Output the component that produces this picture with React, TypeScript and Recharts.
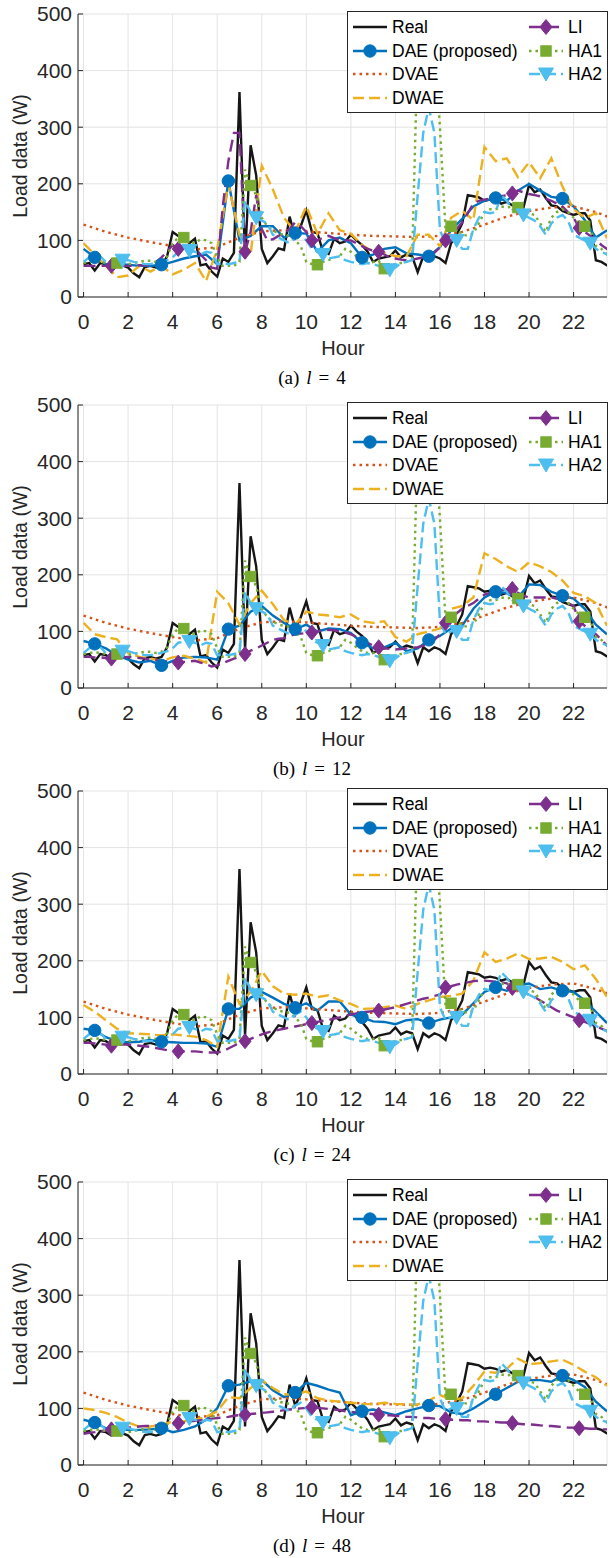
import { ComposedChart, Line, XAxis, YAxis, CartesianGrid } from 'recharts';

const hourTicks = [0, 2, 4, 6, 8, 10, 12, 14, 16, 18, 20, 22];
const loadTicks = [0, 100, 200, 300, 400, 500];

// measured load, 15 min steps, identical in every panel
const realLoad = [
  58, 60, 47, 60, 58, 52, 55, 56, 52, 42, 35, 53,
  55, 52, 55, 72, 115, 108, 105, 95, 103, 56, 58, 45,
  36, 68, 62, 78, 362, 68, 268, 215, 85, 60, 72, 86,
  83, 142, 105, 125, 153, 115, 113, 80, 76, 103, 95, 98,
  110, 100, 92, 80, 62, 68, 70, 72, 82, 70, 75, 72,
  44, 72, 65, 72, 68, 60, 95, 110, 130, 180, 178, 176,
  170, 172, 170, 165, 168, 162, 160, 158, 198, 185, 190, 175,
  162, 160, 152, 148, 145, 148, 148, 135, 65, 62, 56, 52,
];

// historical-average baselines, 15 min steps
const ha1Load = [
  60, 62, 63, 62, 60, 60, 60, 58, 58, 60, 62, 64,
  64, 62, 64, 72, 95, 105, 105, 98, 95, 102, 100, 95,
  70, 55, 55, 55, 62, 225, 197, 180, 140, 125, 118, 112,
  110, 108, 100, 90, 62, 58, 57, 62, 65, 70, 72, 85,
  80, 72, 65, 62, 62, 64, 50, 55, 58, 60, 62, 68,
  440, 455, 455, 445, 300, 120, 125, 120, 110, 108, 112, 130,
  150, 155, 155, 160, 158, 160, 158, 150, 148, 145, 130, 115,
  140, 150, 155, 150, 140, 130, 125, 120, 90, 85, 75, 70,
];
const ha2Load = [
  62, 70, 75, 72, 62, 62, 64, 65, 65, 62, 60, 58,
  58, 60, 62, 65, 70, 80, 82, 82, 80, 75, 80, 78,
  58, 60, 58, 60, 62, 170, 150, 140, 135, 130, 110, 105,
  100, 95, 105, 110, 100, 85, 80, 75, 68, 70, 72, 65,
  62, 60, 58, 60, 58, 55, 50, 48, 52, 60, 62, 65,
  180, 290, 335, 290, 118, 95, 100, 100, 85, 85, 120, 140,
  150, 148, 150, 180, 170, 155, 150, 145, 140, 135, 125, 110,
  130, 140, 145, 135, 110, 105, 100, 95, 85, 80, 75, 70,
];

// DVAE, hourly
const dvaeLoad = [128, 115, 105, 97, 90, 84, 88, 105, 116, 118, 116, 113, 110, 108, 107, 106, 108, 115, 128, 142, 152, 158, 160, 150, 135];

// DAE (proposed), half-hour steps
const daeA = [
  85, 70, 58, 58, 57, 55, 55, 57, 62, 68, 72, 75,
  58, 205, 100, 108, 125, 125, 105, 113, 112, 80, 100, 105,
  95, 70, 75, 85, 88, 77, 75, 72, 88, 118, 138, 160,
  170, 175, 170, 188, 200, 188, 177, 174, 160, 136, 105, 118,
];
const daeB = [
  83, 78, 70, 58, 50, 45, 48, 40, 48, 54, 55, 54,
  50, 104, 110, 135, 145, 128, 115, 104, 112, 100, 105, 104,
  97, 80, 70, 72, 80, 65, 70, 85, 92, 105, 110, 140,
  160, 170, 168, 160, 183, 182, 170, 163, 158, 140, 112, 95,
];
const daeC = [
  80, 77, 65, 58, 56, 57, 60, 57, 56, 55, 55, 54,
  48, 115, 115, 135, 145, 135, 124, 117, 125, 112, 128, 128,
  105, 100, 93, 92, 88, 95, 97, 90, 96, 100, 105, 125,
  145, 153, 147, 157, 160, 150, 153, 147, 145, 130, 110, 90,
];
const daeD = [
  80, 75, 65, 62, 62, 62, 63, 65, 58, 62, 68, 80,
  100, 140, 142, 148, 150, 132, 120, 128, 145, 140, 133, 128,
  88, 95, 98, 93, 88, 95, 100, 105, 104, 93, 90, 100,
  112, 125, 136, 147, 150, 150, 147, 158, 150, 138, 112, 95,
];

// DWAE, half-hour steps
const dwaeA = [
  95, 75, 55, 35, 38, 55, 45, 55, 40, 48, 60, 28,
  85, 200, 110, 76, 232, 190, 140, 115, 160, 112, 148, 118,
  112, 92, 80, 78, 72, 72, 110, 110, 90, 140, 152, 136,
  265, 240, 245, 212, 238, 210, 245, 195, 155, 140, 148, 104,
];
const dwaeB = [
  115, 95, 90, 86, 62, 55, 52, 48, 54, 57, 52, 45,
  170, 150, 112, 150, 172, 148, 120, 112, 135, 130, 128, 125,
  130, 118, 115, 118, 90, 82, 95, 100, 105, 140, 145, 160,
  238, 228, 215, 205, 222, 215, 205, 190, 168, 162, 150, 110,
];
const dwaeC = [
  122, 110, 95, 80, 72, 71, 70, 68, 70, 68, 66, 60,
  48, 172, 124, 145, 182, 155, 142, 140, 142, 136, 139, 130,
  124, 115, 116, 118, 121, 115, 124, 130, 136, 138, 142, 165,
  215, 198, 204, 213, 203, 204, 207, 198, 185, 192, 168, 136,
];
const dwaeD = [
  100, 97, 92, 85, 75, 68, 68, 71, 77, 77, 80, 85,
  95, 120, 118, 136, 150, 136, 125, 124, 130, 118, 114, 112,
  110, 108, 107, 110, 108, 107, 107, 114, 124, 115, 118, 140,
  165, 163, 170, 188, 178, 180, 183, 186, 177, 165, 155, 140,
];

// LI, 15 min steps
const liA = [
  55, 55, 55, 55, 55, 55, 55, 55, 55, 55, 56, 56,
  57, 62, 70, 80, 92, 85, 88, 88, 86, 75, 65, 52,
  50, 160, 240, 290, 290, 80, 115, 180, 120, 100, 102, 108,
  112, 120, 132, 125, 115, 100, 100, 105, 108, 104, 100, 100,
  100, 95, 90, 85, 82, 80, 75, 70, 68, 66, 65, 66,
  68, 70, 72, 78, 88, 100, 110, 120, 132, 148, 165, 170,
  172, 174, 175, 178, 180, 183, 188, 185, 182, 180, 178, 174,
  170, 165, 160, 150, 140, 122, 115, 108, 100, 92, 85, 80,
];
const liB = [
  55, 55, 54, 54, 53, 52, 53, 54, 55, 54, 53, 52,
  50, 49, 48, 47, 46, 45, 46, 47, 48, 45, 42, 38,
  40, 44, 48, 52, 55, 60, 66, 70, 75, 80, 85, 87,
  88, 92, 95, 96, 97, 98, 100, 102, 103, 102, 100, 98,
  95, 90, 85, 80, 75, 72, 70, 69, 68, 69, 70, 71,
  72, 75, 78, 85, 95, 115, 125, 132, 140, 145, 150, 158,
  165, 168, 172, 173, 174, 175, 168, 163, 160, 160, 160, 160,
  160, 158, 155, 150, 145, 118, 110, 102, 95, 85, 75, 65,
];
const liC = [
  55, 55, 54, 53, 52, 50, 51, 52, 52, 51, 50, 49,
  48, 46, 44, 42, 41, 40, 40, 40, 40, 39, 38, 38,
  38, 40, 45, 50, 55, 58, 62, 66, 70, 73, 76, 78,
  80, 82, 84, 86, 88, 90, 92, 94, 95, 98, 100, 103,
  105, 107, 109, 110, 111, 112, 114, 116, 118, 121, 124, 127,
  130, 133, 135, 138, 140, 153, 155, 158, 160, 162, 164, 165,
  165, 164, 163, 162, 160, 152, 150, 145, 140, 136, 130, 124,
  118, 112, 108, 104, 100, 95, 92, 88, 84, 80, 76, 72,
];
const liD = [
  55, 57, 58, 60, 61, 63,
  64, 65, 66, 67, 68, 69, 69, 70, 71, 72, 73, 74,
  75, 77, 78, 79, 80, 82, 83, 84, 85, 87, 88, 89,
  90, 91, 92, 93, 94, 95, 97, 98, 99, 100, 101, 102,
  101, 100, 99, 98, 97, 95, 94, 93, 92, 91, 90, 89,
  88, 88, 87, 86, 85, 85, 84, 83, 83, 82, 81, 81,
  80, 80, 79, 79, 78, 77, 77, 76, 76, 75, 75, 74,
  73, 72, 72, 71, 70, 69, 69, 68, 67, 66, 66, 65,
  65, 64, 64, 63, 63, 62,
];

const panels = [
  { tag: 'a', l: 4, dae: daeA, dwae: dwaeA, li: liA },
  { tag: 'b', l: 12, dae: daeB, dwae: dwaeB, li: liB },
  { tag: 'c', l: 24, dae: daeC, dwae: dwaeC, li: liC },
  { tag: 'd', l: 48, dae: daeD, dwae: dwaeD, li: liD },
];

// top of each plot box on the page
const plotTops = [14, 405, 791, 1182];
const PAD = 20; // space above the plot box inside each panel

const seriesNames = ['Real', 'DAE (proposed)', 'DVAE', 'DWAE', 'LI', 'HA1', 'HA2'];

type MarkerKind = 'circle' | 'diamond' | 'square' | 'triangle';
interface SeriesStyle {
  color: string;
  width: number;
  dash?: string;
  marker?: { kind: MarkerKind; every: number; first: number };
}

const seriesStyles: SeriesStyle[] = [
  { color: '#161616', width: 2.4 },
  { color: '#0072BD', width: 2.4, marker: { kind: 'circle', every: 6, first: 1 } },
  { color: '#D95319', width: 2.4, dash: '2.5 4' },
  { color: '#EDB120', width: 2.4, dash: '11 5' },
  { color: '#7E2F8E', width: 2.4, dash: '12 6', marker: { kind: 'diamond', every: 12, first: 5 } },
  { color: '#77AC30', width: 2.4, dash: '2.5 4', marker: { kind: 'square', every: 12, first: 6 } },
  { color: '#4DBEEE', width: 2.4, dash: '11 5', marker: { kind: 'triangle', every: 12, first: 7 } },
];

const axisInk = '#262626';
const sans = '"Liberation Sans", Arial, Helvetica, sans-serif';
const serif = '"Liberation Serif", "Times New Roman", serif';

const toPoints = (values: number[], step: number) => values.map((v, i) => ({ h: i * step, v }));

function markerShape(kind: MarkerKind, x: number, y: number, color: string) {
  switch (kind) {
    case 'circle':
      return <circle cx={x} cy={y} r={6.2} fill={color} stroke={color} />;
    case 'diamond':
      return <polygon points={`${x},${y - 7.5} ${x + 6},${y} ${x},${y + 7.5} ${x - 6},${y}`} fill={color} stroke={color} />;
    case 'square':
      return <rect x={x - 5.2} y={y - 5.2} width={10.4} height={10.4} fill={color} stroke={color} />;
    default:
      return <polygon points={`${x - 7.5},${y - 6} ${x + 7.5},${y - 6} ${x},${y + 7}`} fill={color} stroke={color} />;
  }
}

function markerDot(style: SeriesStyle) {
  const m = style.marker!;
  return (props: any) => {
    const { cx, cy, index } = props;
    if (cx == null || cy == null || index % m.every !== m.first) return <g key={`dot-${index}`} />;
    return <g key={`dot-${index}`}>{markerShape(m.kind, cx, cy, style.color)}</g>;
  };
}

function LegendBox() {
  const rowY = [16, 40, 63, 87];
  return (
    <svg style={{ position: 'absolute', left: 347, top: PAD - 3 }} width={261} height={102}>
      <rect x={0.5} y={0.5} width={260} height={101} fill="#fff" stroke={axisInk} />
      {seriesNames.map((name, i) => {
        const s = seriesStyles[i];
        const col = i < 4 ? 0 : 1;
        const y = rowY[col === 0 ? i : i - 4];
        const x0 = col === 0 ? 6 : 182;
        return (
          <g key={name}>
            <line x1={x0} x2={x0 + 34} y1={y} y2={y} stroke={s.color} strokeWidth={s.width} strokeDasharray={s.dash} />
            {s.marker && markerShape(s.marker.kind, x0 + 17, y, s.color)}
            <text x={x0 + 39} y={y} dominantBaseline="central" fontFamily={sans} fontSize={17.5} fill="#000">
              {name}
            </text>
          </g>
        );
      })}
    </svg>
  );
}

function Panel({ panel, plotTop }: { panel: (typeof panels)[number]; plotTop: number }) {
  const seriesData = [
    toPoints(realLoad, 0.25),
    toPoints(panel.dae, 0.5),
    toPoints(dvaeLoad, 1),
    toPoints(panel.dwae, 0.5),
    toPoints(panel.li, 0.25),
    toPoints(ha1Load, 0.25),
    toPoints(ha2Load, 0.25),
  ];
  const tickStyle = { fill: axisInk, fontSize: 21, fontFamily: sans };
  const bottom = PAD + 283;

  return (
    <div style={{ position: 'absolute', left: 0, top: plotTop - PAD, width: 610, height: 390 }}>
      <ComposedChart width={610} height={PAD + 283 + 40} margin={{ top: PAD, right: 3, bottom: 0, left: 10 }}>
        <CartesianGrid xAxisId="b" yAxisId="l" stroke="#e3e3e3" />
        <XAxis
          xAxisId="b"
          type="number"
          dataKey="h"
          domain={[-0.25, 23.5]}
          ticks={hourTicks}
          interval={0}
          allowDataOverflow
          height={40}
          tickSize={-5}
          tickMargin={22}
          stroke={axisInk}
          tick={tickStyle}
        />
        <XAxis
          xAxisId="t"
          orientation="top"
          type="number"
          dataKey="h"
          domain={[-0.25, 23.5]}
          ticks={hourTicks}
          interval={0}
          allowDataOverflow
          height={0}
          tickSize={-5}
          tickFormatter={() => ''}
          stroke={axisInk}
        />
        <YAxis
          yAxisId="l"
          type="number"
          domain={[0, 500]}
          ticks={loadTicks}
          interval={0}
          allowDataOverflow
          width={68}
          tickSize={-5}
          tickMargin={11}
          stroke={axisInk}
          tick={tickStyle}
        />
        <YAxis
          yAxisId="r"
          orientation="right"
          type="number"
          domain={[0, 500]}
          ticks={loadTicks}
          interval={0}
          allowDataOverflow
          width={0}
          tickSize={-5}
          tickFormatter={() => ''}
          stroke={axisInk}
        />
        {seriesStyles.map((s, i) => (
          <Line
            key={seriesNames[i]}
            xAxisId="b"
            yAxisId="l"
            data={seriesData[i]}
            dataKey="v"
            type="linear"
            stroke={s.color}
            strokeWidth={s.width}
            strokeDasharray={s.dash}
            dot={s.marker ? markerDot(s) : false}
            activeDot={false}
            isAnimationActive={false}
          />
        ))}
      </ComposedChart>

      <LegendBox />

      <div
        style={{
          position: 'absolute',
          left: 20,
          top: PAD + 141.5,
          transform: 'translate(-50%, -50%) rotate(-90deg)',
          fontFamily: sans,
          fontSize: 19.5,
          color: axisInk,
          whiteSpace: 'nowrap',
        }}
      >
        Load data (W)
      </div>
      <div
        style={{
          position: 'absolute',
          left: 343,
          top: bottom + 51,
          transform: 'translate(-50%, -50%)',
          fontFamily: sans,
          fontSize: 20,
          color: axisInk,
        }}
      >
        Hour
      </div>
      <div
        style={{
          position: 'absolute',
          left: 312,
          top: bottom + 81,
          transform: 'translate(-50%, -50%)',
          fontFamily: serif,
          fontSize: 19,
          color: '#000',
          whiteSpace: 'nowrap',
        }}
      >
        ({panel.tag})<span style={{ marginLeft: 7, fontStyle: 'italic' }}>l</span>
        <span style={{ margin: '0 7px' }}>=</span>
        {panel.l}
      </div>
    </div>
  );
}

export default function App() {
  return (
    <div style={{ position: 'absolute', left: 0, top: 0, width: 610, height: 1558, background: '#fff' }}>
      {panels.map((p, i) => (
        <Panel key={p.tag} panel={p} plotTop={plotTops[i]} />
      ))}
    </div>
  );
}
